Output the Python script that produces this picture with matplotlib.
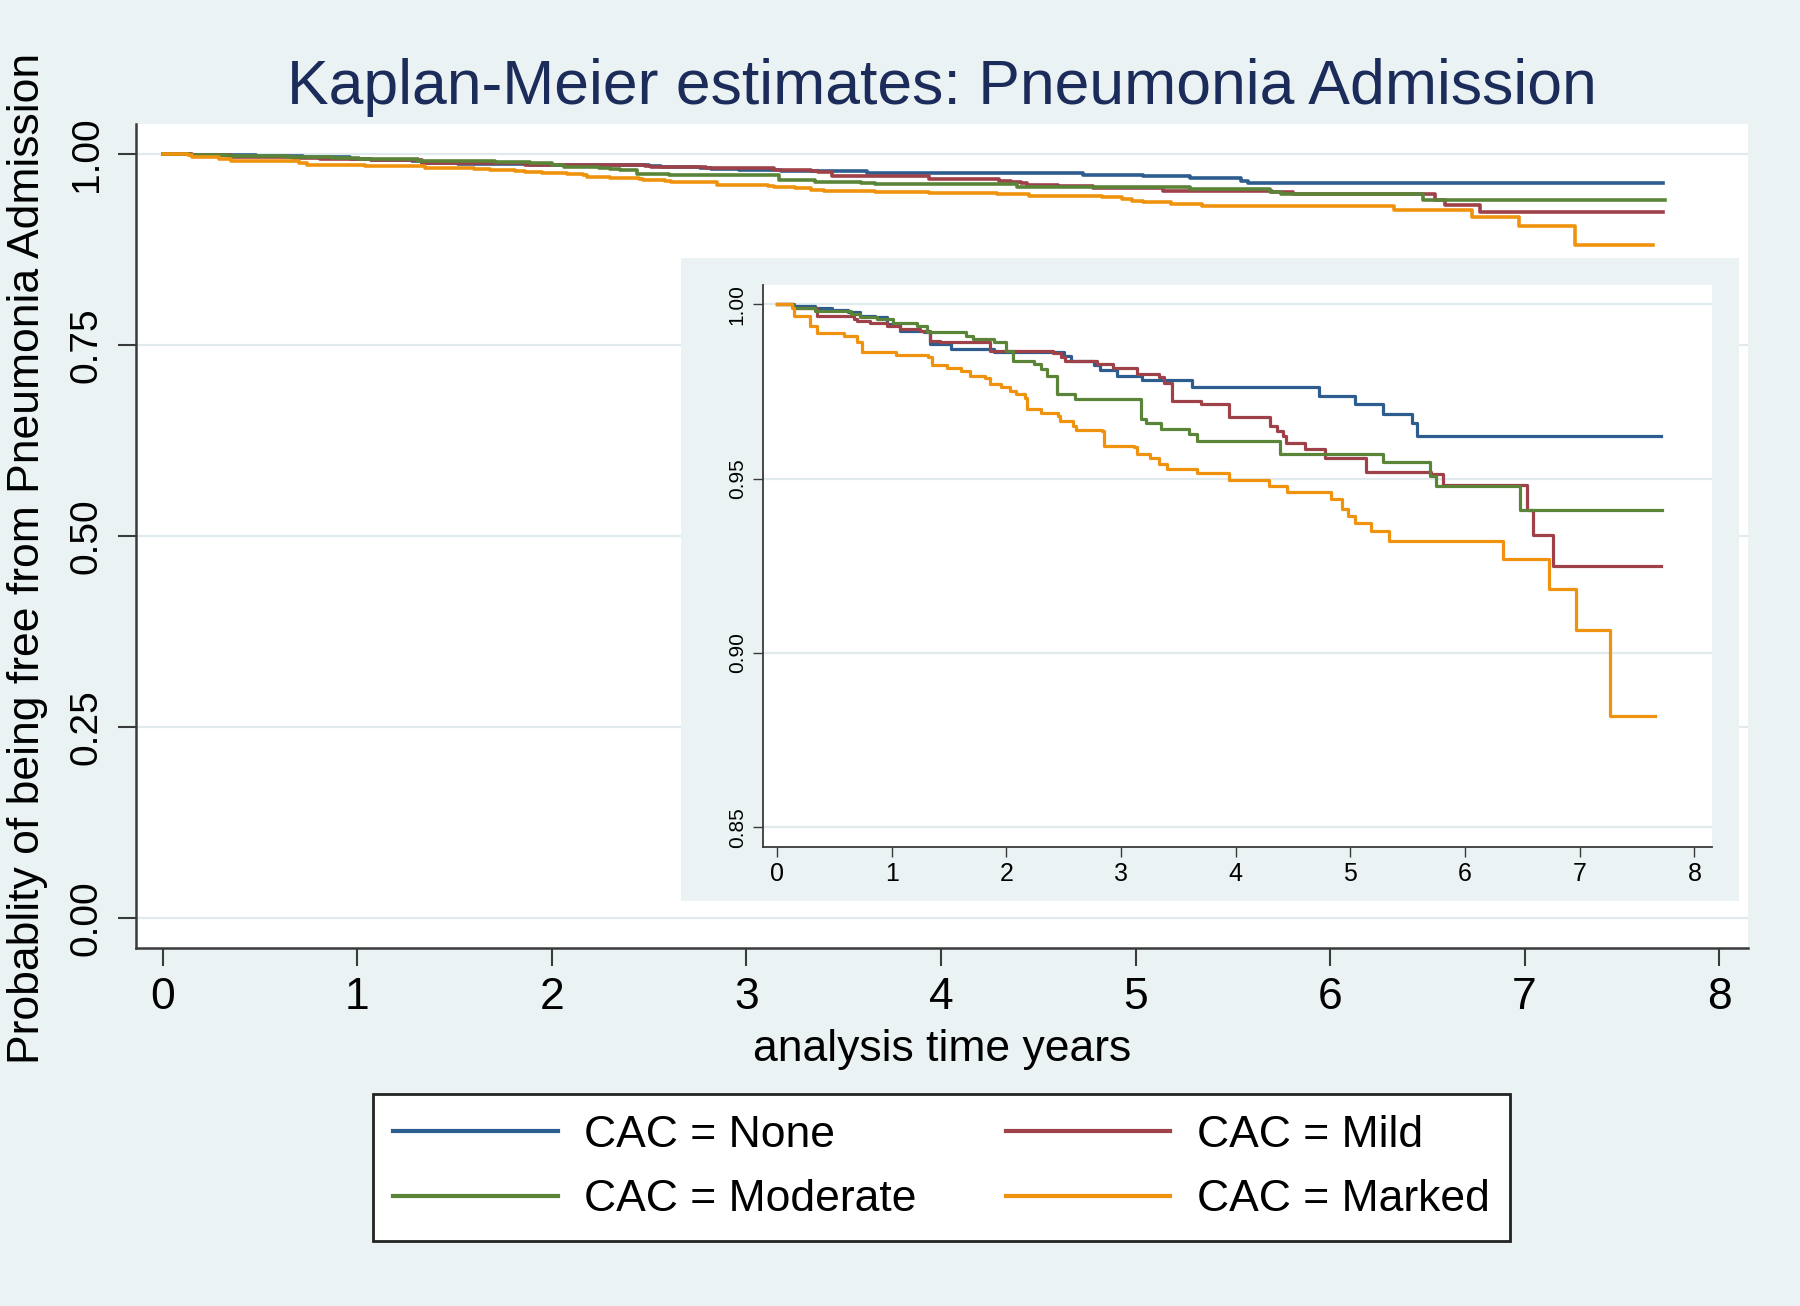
import numpy as np
import matplotlib
matplotlib.use('Agg')
import matplotlib.pyplot as plt

# Kaplan-Meier step data (years, survival after each step)
none_t = [0, 0.14, 0.33, 0.48, 0.62, 0.72, 0.85, 0.96, 1.07, 1.28, 1.33, 1.52, 1.89, 2.50, 2.56,
          2.76, 2.82, 2.96, 3.18, 3.62, 4.73, 5.04, 5.28, 5.54, 5.58, 7.71]
none_s = [1.0, 0.9995, 0.9990, 0.9984, 0.9976, 0.9965, 0.9962, 0.9943, 0.9924, 0.9919, 0.9885, 0.9871,
          0.9862, 0.9850, 0.9837, 0.9825, 0.9811, 0.9794, 0.9783, 0.9761, 0.9737, 0.9713, 0.9686, 0.9659,
          0.9621, 0.9621]

mild_t = [0, 0.15, 0.35, 0.67, 0.70, 0.81, 0.96, 1.07, 1.25, 1.33, 1.42, 1.86, 2.41, 2.48, 2.51, 2.79,
          2.93, 3.14, 3.33, 3.37, 3.44, 3.70, 3.94, 4.30, 4.36, 4.41, 4.44, 4.60, 4.78, 5.14, 5.70, 5.81,
          6.54, 6.59, 6.77, 7.71]
mild_s = [1.0, 0.9990, 0.9965, 0.9957, 0.9952, 0.9947, 0.9938, 0.9930, 0.9924, 0.9895, 0.9890, 0.9866,
          0.9859, 0.9847, 0.9837, 0.9828, 0.9818, 0.9799, 0.9790, 0.9775, 0.9723, 0.9713, 0.9677, 0.9651,
          0.9637, 0.9622, 0.9603, 0.9584, 0.9560, 0.9519, 0.9512, 0.9481, 0.9410, 0.9338, 0.9250, 0.9250]

moderate_t = [0, 0.14, 0.33, 0.64, 0.72, 0.87, 1.01, 1.22, 1.31, 1.65, 1.71, 1.89, 2.00, 2.06, 2.24,
              2.30, 2.35, 2.44, 2.60, 3.17, 3.22, 3.35, 3.59, 3.66, 4.39, 5.28, 5.69, 5.75, 6.48, 7.72]
moderate_s = [1.0, 0.9990, 0.9981, 0.9971, 0.9962, 0.9957, 0.9947, 0.9938, 0.9919, 0.9909, 0.9900,
              0.9890, 0.9866, 0.9837, 0.9828, 0.9814, 0.9794, 0.9742, 0.9728, 0.9670, 0.9660, 0.9641,
              0.9627, 0.9608, 0.9570, 0.9546, 0.9508, 0.9478, 0.9410, 0.9410]

marked_t = [0, 0.13, 0.15, 0.29, 0.35, 0.58, 0.70, 0.74, 1.04, 1.32, 1.35, 1.48, 1.60, 1.68, 1.81,
            1.86, 1.95, 2.03, 2.08, 2.16, 2.18, 2.30, 2.45, 2.47, 2.58, 2.61, 2.83, 2.85, 3.11, 3.14,
            3.25, 3.33, 3.40, 3.66, 3.94, 4.29, 4.45, 4.83, 4.93, 4.98, 5.04, 5.18, 5.34, 6.33, 6.73,
            6.97, 7.26, 7.66]
marked_s = [1.0, 0.9990, 0.9967, 0.9938, 0.9916, 0.9909, 0.9890, 0.9863, 0.9854, 0.9847, 0.9825,
            0.9818, 0.9809, 0.9794, 0.9787, 0.9771, 0.9763, 0.9751, 0.9742, 0.9732, 0.9699, 0.9687,
            0.9680, 0.9665, 0.9651, 0.9640, 0.9637, 0.9594, 0.9589, 0.9570, 0.9560, 0.9541, 0.9528,
            0.9515, 0.9497, 0.9479, 0.9460, 0.9441, 0.9412, 0.9393, 0.9374, 0.9350, 0.9320, 0.9268,
            0.9184, 0.9065, 0.8819, 0.8819]

labels = ['CAC = None', 'CAC = Mild', 'CAC = Moderate', 'CAC = Marked']
colors = ['#2d5d8e', '#9e4148', '#5a8538', '#ef930f']

main_xticks = [0, 1, 2, 3, 4, 5, 6, 7, 8]
main_yticks = [0.00, 0.25, 0.50, 0.75, 1.00]
inset_yticks = [0.85, 0.90, 0.95, 1.00]

bg = '#eaf2f3'
grid_col = '#e1ebee'
axis_col = '#3a3a3a'

plt.rcParams['font.family'] = ['Liberation Sans', 'DejaVu Sans']

series = [(none_t, none_s), (mild_t, mild_s), (moderate_t, moderate_s), (marked_t, marked_s)]

fig = plt.figure(figsize=(18, 13.06), dpi=100, facecolor=bg)


def style_axes(ax, tick_len, tick_w, spine_w):
    ax.set_facecolor('white')
    for side in ['top', 'right']:
        ax.spines[side].set_visible(False)
    for side in ['left', 'bottom']:
        ax.spines[side].set_color(axis_col)
        ax.spines[side].set_linewidth(spine_w)
    ax.tick_params(length=tick_len, width=tick_w, color=axis_col)
    ax.yaxis.grid(True, color=grid_col, linewidth=1.6)
    ax.set_axisbelow(True)


# main plot
ax = fig.add_axes([0.0753, 0.2742, 0.896, 0.6309])
style_axes(ax, 13, 1.5, 1.8)
handles = []
for (t, s), c, lab in zip(series, colors, labels):
    h, = ax.step(t, s, where='post', color=c, lw=2.6, label=lab)
    handles.append(h)
ax.set_xlim(-0.14, 8.15)
ax.set_ylim(-0.039, 1.04)
ax.set_xticks(main_xticks)
ax.set_yticks(main_yticks)
ax.set_yticklabels(['%.2f' % v for v in main_yticks])
ax.tick_params(axis='x', labelsize=32, pad=8)
ax.tick_params(axis='y', labelsize=28, pad=9)
plt.setp(ax.get_yticklabels(), rotation=90, va='center')
ax.set_xlabel('analysis time years', fontsize=32)
ax.xaxis.set_label_coords(0.5, -0.098)
ax.set_ylabel('Probablity of being free from Pneumonia Admission', fontsize=32)
ax.yaxis.set_label_coords(-0.054, 0.473)

fig.text(0.523, 0.933, 'Kaplan-Meier estimates: Pneumonia Admission', fontsize=45,
         color='#1c2c5a', ha='center', va='center')

# inset background box
box = fig.add_axes([0.3782, 0.3102, 0.588, 0.4921])
box.set_facecolor(bg)
box.set_xticks([])
box.set_yticks([])
for sp in box.spines.values():
    sp.set_visible(False)

# zoomed inset
ins = fig.add_axes([0.4241, 0.3515, 0.5268, 0.4306])
style_axes(ins, 7, 1.0, 1.3)
for (t, s), c in zip(series, colors):
    ins.step(t, s, where='post', color=c, lw=2.3)
ins.set_xlim(-0.12, 8.15)
ins.set_ylim(0.8444, 1.0056)
ins.set_xticks(main_xticks)
ins.set_yticks(inset_yticks)
ins.set_yticklabels(['%.2f' % v for v in inset_yticks])
ins.tick_params(axis='x', labelsize=18, pad=4)
ins.tick_params(axis='y', labelsize=15, pad=5)
plt.setp(ins.get_yticklabels(), rotation=90, va='center')

# legend, row order None/Mild then Moderate/Marked
order = [0, 2, 1, 3]
leg = fig.legend([handles[i] for i in order], [labels[i] for i in order], ncol=2,
                 loc='center', bbox_to_anchor=(0.523, 0.106), fontsize=32, frameon=True,
                 fancybox=False, edgecolor='#222222', facecolor='white', framealpha=1,
                 handlelength=3.7, handletextpad=0.6, columnspacing=2.0, labelspacing=0.53,
                 borderpad=0.46)
leg.get_frame().set_linewidth(2)
for line in leg.get_lines():
    line.set_linewidth(3)

fig.savefig('out.png', dpi=100, facecolor=bg)
